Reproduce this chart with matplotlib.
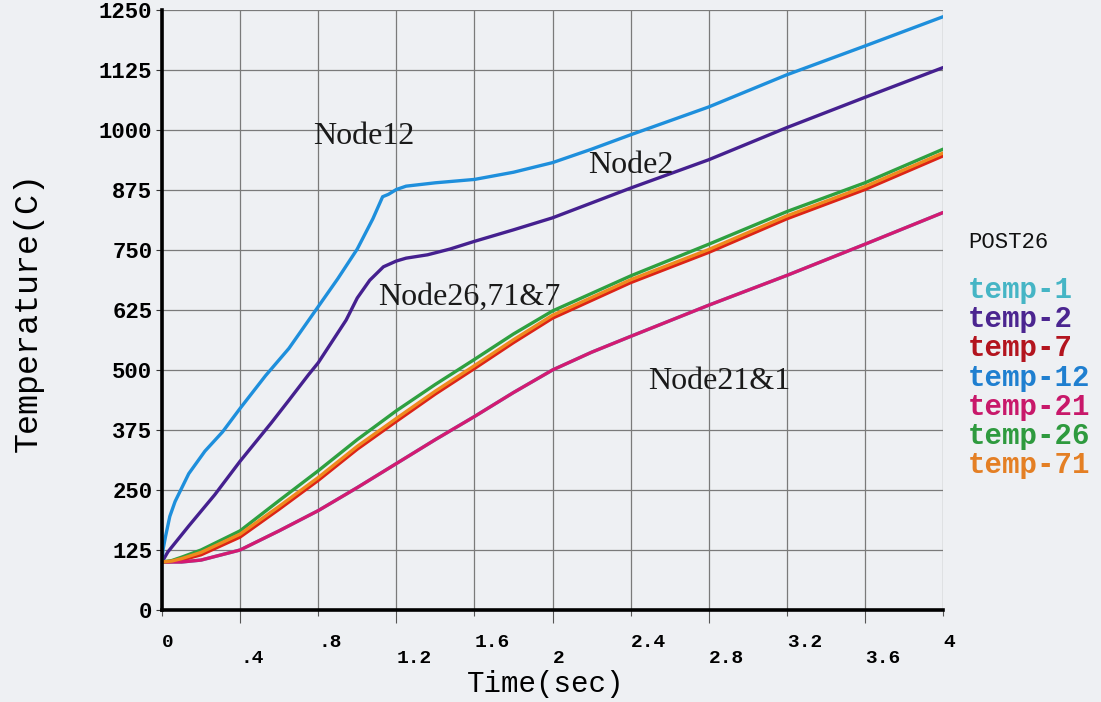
import matplotlib
matplotlib.use("Agg")
import matplotlib.pyplot as plt
from matplotlib.ticker import FixedLocator, FixedFormatter

# ---- nodal temperature histories (time in sec, temperature in C) ----
time_12 = [0, 0.005, 0.018, 0.04, 0.067, 0.137, 0.22, 0.31, 0.4, 0.53, 0.65, 0.8, 0.9,
           1.0, 1.08, 1.13, 1.16, 1.2, 1.25, 1.4, 1.6, 1.8, 2.0, 2.2, 2.4, 2.8, 3.2, 3.6, 4.0]
temp_12 = [100, 125, 153, 195, 226, 284, 331, 371, 420, 488, 545, 632, 690,
           752, 815, 861, 866, 876, 883, 890, 897, 912, 932, 960, 990, 1048, 1115, 1175, 1236]

time_2 = [0, 0.03, 0.137, 0.27, 0.4, 0.56, 0.65, 0.75, 0.8, 0.943, 1.0, 1.064, 1.134,
          1.2, 1.25, 1.36, 1.475, 1.6, 1.8, 2.0, 2.4, 2.8, 3.2, 3.6, 4.0]
temp_2 = [100, 121, 175, 240, 310, 390, 437, 490, 515, 604, 650, 687, 715,
          727, 733, 740, 752, 768, 792, 817, 879, 938, 1005, 1068, 1130]

time_26 = [0, 0.05, 0.1, 0.2, 0.4, 0.6, 0.8, 1.0, 1.2, 1.4, 1.6, 1.8, 2.0, 2.4, 2.8, 3.2, 3.6, 4.0]
temp_26 = [100, 103, 110, 125, 165, 228, 290, 355, 415, 470, 522, 575, 623, 696, 762, 830, 890, 960]

time_71 = [0, 0.05, 0.1, 0.2, 0.4, 0.6, 0.8, 1.0, 1.2, 1.4, 1.6, 1.8, 2.0, 2.4, 2.8, 3.2, 3.6, 4.0]
temp_71 = [100, 102, 107, 120, 158, 216, 276, 341, 399, 456, 509, 563, 614, 688, 751, 821, 882, 952]

time_7 = [0, 0.05, 0.1, 0.2, 0.4, 0.6, 0.8, 1.0, 1.2, 1.4, 1.6, 1.8, 2.0, 2.4, 2.8, 3.2, 3.6, 4.0]
temp_7 = [100, 101, 104, 115, 152, 210, 270, 335, 393, 450, 503, 557, 608, 682, 745, 815, 876, 946]

time_21 = [0, 0.1, 0.2, 0.4, 0.6, 0.8, 1.0, 1.2, 1.4, 1.6, 1.8, 2.0, 2.2, 2.4, 2.8, 3.2, 3.6, 4.0]
temp_21 = [100, 100, 104, 125, 165, 207, 255, 305, 355, 403, 453, 500, 537, 570, 635, 697, 762, 828]

time_1 = time_21
temp_1 = temp_21

series_names = ["temp-1", "temp-2", "temp-7", "temp-12", "temp-21", "temp-26", "temp-71"]
series_time = [time_1, time_2, time_7, time_12, time_21, time_26, time_71]
series_temp = [temp_1, temp_2, temp_7, temp_12, temp_21, temp_26, temp_71]
line_colors = ["#3cb4c8", "#45208f", "#dc2416", "#1e8fdc", "#d41a72", "#2ea040", "#f08a1e"]
legend_colors = ["#45b5c5", "#4b2590", "#b3141e", "#1f7fd0", "#c8186a", "#2e9a3e", "#e47f24"]

x_major = [0, 0.8, 1.6, 2.4, 3.2, 4]
x_major_labels = ["0", ".8", "1.6", "2.4", "3.2", "4"]
x_minor = [0.4, 1.2, 2.0, 2.8, 3.6]
x_minor_labels = [".4", "1.2", "2", "2.8", "3.6"]
y_ticks = [0, 125, 250, 375, 500, 625, 750, 875, 1000, 1125, 1250]

node_labels = ["Node12", "Node2", "Node26,71&7", "Node21&1"]
node_label_t = [0.773, 2.18, 1.106, 2.49]
node_label_T = [987, 927, 652, 477]

MONO = "Liberation Mono"
SERIF = "Liberation Serif"
PAPER = "#eef0f3"
W, H = 1101, 702

fig = plt.figure(figsize=(W / 100, H / 100), dpi=100, facecolor=PAPER)
ax = fig.add_axes([162 / W, 1 - 610 / H, (943 - 162) / W, 600 / H], facecolor=PAPER)

for name, tt, vv, c in zip(series_names, series_time, series_temp, line_colors):
    ax.plot(tt, vv, color=c, lw=2.4, solid_joinstyle="round", solid_capstyle="round",
            zorder=3)

ax.set_xlim(0, 4)
ax.set_ylim(0, 1250)

ax.xaxis.set_major_locator(FixedLocator(x_major))
ax.xaxis.set_major_formatter(FixedFormatter(x_major_labels))
ax.xaxis.set_minor_locator(FixedLocator(x_minor))
ax.xaxis.set_minor_formatter(FixedFormatter(x_minor_labels))
ax.yaxis.set_major_locator(FixedLocator(y_ticks))
ax.yaxis.set_major_formatter(FixedFormatter([str(v) for v in y_ticks]))
ax.yaxis.set_minor_locator(FixedLocator([]))

ax.tick_params(axis="x", which="major", direction="out", length=4.5, width=0.8,
               color="#555555", pad=13, labelsize=14)
ax.tick_params(axis="x", which="minor", direction="out", length=9.5, width=0.8,
               color="#555555", pad=19, labelsize=14)
ax.tick_params(axis="y", which="major", direction="out", length=4, width=0.8,
               color="#333333", pad=3, labelsize=16)

for lab in ax.get_xticklabels(which="both"):
    lab.set_fontfamily(MONO)
    lab.set_fontweight("bold")
    lab.set_horizontalalignment("left")
for lab in ax.get_yticklabels():
    lab.set_fontfamily(MONO)
    lab.set_fontweight("bold")

ax.grid(True, which="both", color="#7a7a7a", lw=0.9, zorder=1)
ax.set_axisbelow(True)

for side in ("top", "right"):
    ax.spines[side].set_visible(False)
for side in ("left", "bottom"):
    ax.spines[side].set_linewidth(2.6)
    ax.spines[side].set_color("black")
    ax.spines[side].set_zorder(4)

ax.set_xlabel("Time(sec)", fontfamily=MONO, fontsize=21, va="center")
ax.set_ylabel("Temperature(C)", fontfamily=MONO, fontsize=24, va="center")
ax.xaxis.set_label_coords((546 - 162) / (943 - 162), -(684 - 610) / 600)
ax.yaxis.set_label_coords(-(162 - 28) / (943 - 162), (610 - 312) / 600)

for txt, tx, ty in zip(node_labels, node_label_t, node_label_T):
    ax.text(tx, ty, txt, fontfamily=SERIF, fontsize=23, ha="left", va="center",
            color="#1a1a1a", zorder=5)

# plot key on the right-hand side
fig.text(968 / W, 1 - 242 / H, "POST26", fontfamily=MONO, fontsize=16,
         ha="left", va="center", color="#111111")
for i, (name, c) in enumerate(zip(series_names, legend_colors)):
    fig.text(968 / W, 1 - (290 + 29.2 * i) / H, name, fontfamily=MONO,
             fontsize=21, fontweight="bold", ha="left", va="center", color=c)

fig.savefig("out.png", dpi=100, facecolor=PAPER)
